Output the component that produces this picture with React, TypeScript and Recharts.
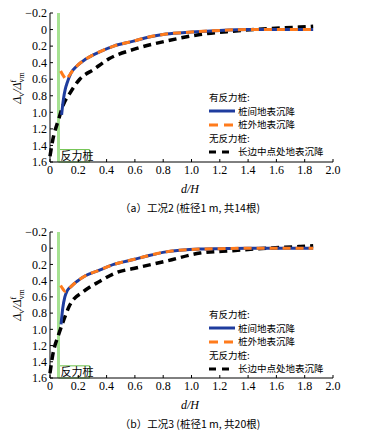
import React from 'react';
import { LineChart, Line, XAxis, YAxis, ReferenceLine, ReferenceArea } from 'recharts';

// tick labels
const xTicks = [0, 0.2, 0.4, 0.6, 0.8, 1.0, 1.2, 1.4, 1.6, 1.8, 2.0];
const yTicks = [-0.2, 0, 0.2, 0.4, 0.6, 0.8, 1.0, 1.2, 1.4, 1.6];

// 工况2
const blueXA = [0.082, 0.095, 0.108, 0.122, 0.15, 0.19, 0.25, 0.35, 0.45, 0.59, 0.7, 0.82, 1.0, 1.2, 1.4, 1.6, 1.86];
const blueYA = [1.03, 0.84, 0.72, 0.64, 0.52, 0.44, 0.36, 0.27, 0.2, 0.14, 0.09, 0.055, 0.03, 0.01, 0.0, 0.0, 0.0];
const orangeXA = [0.075, 0.095, 0.115, 0.13, 0.15, 0.19, 0.25, 0.35, 0.45, 0.59, 0.7, 0.82, 1.0, 1.2, 1.4, 1.6, 1.86];
const orangeYA = [0.5, 0.56, 0.6, 0.57, 0.52, 0.44, 0.36, 0.27, 0.2, 0.14, 0.09, 0.055, 0.03, 0.01, 0.0, 0.0, 0.0];
const blackXA = [0.0, 0.02, 0.06, 0.094, 0.14, 0.21, 0.31, 0.42, 0.59, 0.82, 1.06, 1.29, 1.53, 1.76, 1.86];
const blackYA = [1.53, 1.33, 1.09, 0.91, 0.77, 0.6, 0.48, 0.35, 0.24, 0.14, 0.06, 0.02, -0.01, -0.03, -0.04];

// 工况3
const blueXB = [0.078, 0.09, 0.105, 0.12, 0.15, 0.19, 0.25, 0.35, 0.45, 0.59, 0.7, 0.82, 1.06, 1.2, 1.4, 1.6, 1.86];
const blueYB = [0.94, 0.74, 0.6, 0.53, 0.47, 0.41, 0.34, 0.27, 0.2, 0.14, 0.09, 0.045, 0.01, 0.005, 0.0, 0.0, 0.0];
const orangeXB = [0.075, 0.09, 0.106, 0.12, 0.15, 0.19, 0.25, 0.35, 0.45, 0.59, 0.7, 0.82, 1.06, 1.2, 1.4, 1.6, 1.86];
const orangeYB = [0.46, 0.5, 0.53, 0.52, 0.47, 0.41, 0.34, 0.27, 0.2, 0.14, 0.09, 0.045, 0.01, 0.005, 0.0, 0.0, 0.0];
const blackXB = [0.0, 0.02, 0.06, 0.094, 0.14, 0.24, 0.35, 0.47, 0.59, 0.82, 1.06, 1.29, 1.53, 1.76, 1.86];
const blackYB = [1.54, 1.31, 1.07, 0.9, 0.7, 0.53, 0.41, 0.3, 0.25, 0.16, 0.06, 0.03, 0.0, -0.02, -0.03];

const pileX = 0.06;

const zip = (xs: number[], ys: number[]) => xs.map((x, i) => ({ x, y: ys[i] }));

const serif = '"Liberation Serif", "DejaVu Serif", serif';
const cjk = '"Noto Sans CJK SC", sans-serif';

const fmtX = (v: number) => (v === 0 ? '0' : v.toFixed(1));
const fmtY = (v: number) => (Math.abs(v) < 1e-9 ? '0' : v < 0 ? '\u2212' + Math.abs(v).toFixed(1) : v.toFixed(1));

const BLUE = '#1f3c9e';
const ORANGE = '#ff7b1c';
const GREEN = '#a6e292';

function Sample({ color, dash }: { color: string; dash?: string }) {
  return (
    <svg width={26} height={6} style={{ display: 'block', flex: 'none' }}>
      <line x1={0} y1={3} x2={26} y2={3} stroke={color} strokeWidth={3} strokeDasharray={dash} />
    </svg>
  );
}

function Panel(props: {
  top: number;
  height: number;
  marginTop: number;
  plotH: number;
  blue: { x: number; y: number }[];
  orange: { x: number; y: number }[];
  black: { x: number; y: number }[];
  legendTop: number;
  caption: string;
}) {
  const { top, height, marginTop, plotH } = props;
  const bottom = height - marginTop - plotH - 30;
  const step = 13.5;
  const item = (i: number) =>
    ({ position: 'absolute', left: 0, top: i * step, height: step, display: 'flex', alignItems: 'center', gap: 3, whiteSpace: 'nowrap' } as React.CSSProperties);
  return (
    <div style={{ position: 'absolute', left: 0, top, width: 373, height }}>
      <LineChart width={373} height={height} margin={{ top: marginTop, right: 40, left: 10, bottom }}>
        <XAxis
          type="number"
          dataKey="x"
          domain={[0, 2]}
          ticks={xTicks}
          tickFormatter={fmtX}
          stroke="#000"
          tickSize={-3}
          tickMargin={6}
          height={30}
          tick={{ fill: '#000', fontFamily: serif, fontSize: 12 }}
          interval={0}
        />
        <YAxis
          type="number"
          dataKey="y"
          domain={[-0.2, 1.6]}
          ticks={yTicks}
          tickFormatter={fmtY}
          reversed
          width={40}
          stroke="#000"
          tickSize={-3}
          tickMargin={6}
          tick={{ fill: '#000', fontFamily: serif, fontSize: 12 }}
          interval={0}
          allowDataOverflow
        />
        <ReferenceLine x={pileX} stroke={GREEN} strokeWidth={3} />
        <ReferenceArea
          x1={pileX}
          x2={0.28}
          y1={1.45}
          y2={1.6}
          fill="#fff"
          fillOpacity={1}
          stroke="#6cc24a"
          strokeWidth={1}
          label={{ value: '反力桩', position: 'insideLeft', offset: 2, fill: '#000', fontSize: 11, fontFamily: cjk }}
        />
        <Line data={props.black} dataKey="y" type="monotone" stroke="#000" strokeWidth={3.5} strokeDasharray="8 5" dot={false} isAnimationActive={false} />
        <Line data={props.blue} dataKey="y" type="monotone" stroke={BLUE} strokeWidth={3} dot={false} isAnimationActive={false} />
        <Line data={props.orange} dataKey="y" type="monotone" stroke={ORANGE} strokeWidth={3} strokeDasharray="8 5" dot={false} isAnimationActive={false} />
      </LineChart>

      <div style={{ position: 'absolute', left: 209, top: props.legendTop, width: 140, height: 5 * step, fontFamily: cjk, fontSize: 9.5, color: '#000', lineHeight: 1 }}>
        <div style={item(0)}><span>有反力桩:</span></div>
        <div style={item(1)}><Sample color={BLUE} /><span>桩间地表沉降</span></div>
        <div style={item(2)}><Sample color={ORANGE} dash="9 6" /><span>桩外地表沉降</span></div>
        <div style={item(3)}><span>无反力桩:</span></div>
        <div style={item(4)}><Sample color="#000" dash="7 6" /><span>长边中点处地表沉降</span></div>
      </div>

      <div
        style={{
          position: 'absolute',
          left: 18,
          top: marginTop + plotH / 2,
          transform: 'translate(-50%, -50%) rotate(-90deg)',
          whiteSpace: 'nowrap',
          fontFamily: serif,
          fontSize: 12,
          fontStyle: 'italic',
        }}
      >
        Δ<sub style={{ fontSize: 8, fontStyle: 'normal' }}>v</sub>/Δ
        <span style={{ display: 'inline-flex', flexDirection: 'column', fontSize: 8, fontStyle: 'normal', lineHeight: '8px', verticalAlign: 'middle' }}>
          <span>f</span>
          <span>vm</span>
        </span>
      </div>

      <div style={{ position: 'absolute', left: 0, width: 380, textAlign: 'center', top: marginTop + plotH + 20, fontFamily: serif, fontSize: 12, fontStyle: 'italic' }}>
        d/H
      </div>
      <div style={{ position: 'absolute', left: 0, width: 380, textAlign: 'center', top: marginTop + plotH + 38, fontFamily: cjk, fontSize: 10.5 }}>
        {props.caption}
      </div>
    </div>
  );
}

export default function App() {
  return (
    <div style={{ position: 'absolute', left: 0, top: 0, width: 373, height: 436, background: '#fff' }}>
      <Panel
        top={0}
        height={215}
        marginTop={13}
        plotH={149}
        blue={zip(blueXA, blueYA)}
        orange={zip(orangeXA, orangeYA)}
        black={zip(blackXA, blackYA)}
        legendTop={91}
        caption="（a）工况2 (桩径1 m, 共14根)"
      />
      <Panel
        top={215}
        height={221}
        marginTop={17}
        plotH={146}
        blue={zip(blueXB, blueYB)}
        orange={zip(orangeXB, orangeYB)}
        black={zip(blackXB, blackYB)}
        legendTop={93}
        caption="（b）工况3 (桩径1 m, 共20根)"
      />
    </div>
  );
}
